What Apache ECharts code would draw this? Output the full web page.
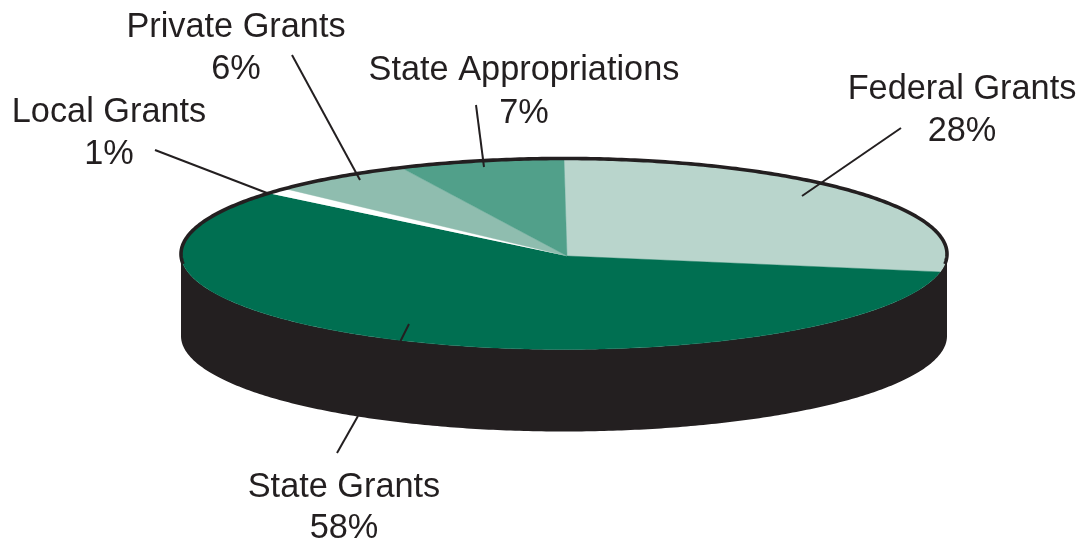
<!DOCTYPE html>
<html><head><meta charset="utf-8">
<style>html,body{margin:0;padding:0;background:#fff}#c{width:1083px;height:544px}</style>
<script src="https://cdn.jsdelivr.net/npm/echarts@6/dist/echarts.min.js"></script>
</head><body><div id="c"></div>
<script>
const categories = ['Federal Grants','State Grants','Local Grants','Private Grants','State Appropriations'];
const shares = [28,58,1,6,7];
const sliceColors = ['#B9D5CC','#006F51','#FFFFFF','#8FBDAF','#51A08A'];
const labelCenters = [[962,90,132],[344,488,529],[109,113,155],[236,28,70],[524,71,114]];
const leaders = [
  [[802,196],[901,128]],
  [[409,324],[400,342]],
  [[358,416],[337,453]],
  [[267,193],[155,150]],
  [[360,180],[292,55]],
  [[484,167],[476,105]]
];
const C = {cx:564,cy:254,rx:383,ry:95.5,ax:567,ay:256,depth:82};
const ink = '#231F20';
const TOTAL = shares.reduce((a,b)=>a+b,0);
function pt(deg,dy){const t=deg*Math.PI/180;return [C.cx+C.rx*Math.sin(t),C.cy-C.ry*Math.cos(t)+(dy||0)];}
function arc(a,b,dy){const n=Math.max(2,Math.ceil(Math.abs(b-a)*1.5)),o=[];for(let i=0;i<=n;i++)o.push(pt(a+(b-a)*i/n,dy));return o;}
const starts=[];shares.reduce((s,v,i)=>{starts[i]=s;return s+v;},0);
const chart=echarts.init(document.getElementById('c'),null,{renderer:'canvas'});
chart.setOption({
  animation:false,
  grid:{left:0,right:0,top:0,bottom:0},
  xAxis:{type:'value',min:0,max:1083,show:false},
  yAxis:{type:'value',min:0,max:544,inverse:true,show:false},
  series:[
    {type:'custom',silent:true,clip:false,data:[0],z:1,
     renderItem(p,api){
       const pts=arc(90,270,0).concat(arc(270,90,C.depth)).map(q=>api.coord(q));
       return {type:'polygon',shape:{points:pts},style:{fill:ink}};
     }},
    {type:'custom',silent:true,clip:false,z:2,
     data:shares.map((v,i)=>[starts[i],v]),
     renderItem(p,api){
       const a=api.value(0)/TOTAL*360,b=a+api.value(1)/TOTAL*360,i=p.dataIndex;
       const pts=[[C.ax,C.ay]].concat(arc(a,b,0)).map(q=>api.coord(q));
       return {type:'polygon',shape:{points:pts},style:{fill:sliceColors[i],stroke:sliceColors[i]==='#FFFFFF'?null:sliceColors[i],lineWidth:0.4}};
     }},
    {type:'custom',silent:true,clip:false,data:[0],z:3,
     renderItem(p,api){
       return {type:'polyline',shape:{points:arc(-96,96,0).map(q=>api.coord(q))},style:{fill:null,stroke:ink,lineWidth:3.6}};
     }},
    {type:'custom',silent:true,clip:false,z:4,
     data:leaders.map((l,i)=>[i]),
     renderItem(p,api){
       const l=leaders[p.dataIndex],a=api.coord(l[0]),b=api.coord(l[1]);
       return {type:'line',shape:{x1:a[0],y1:a[1],x2:b[0],y2:b[1]},style:{stroke:ink,lineWidth:2}};
     }},
    {type:'custom',silent:true,clip:false,z:5,
     data:categories.map((c,i)=>[i]),
     renderItem(p,api){
       const i=p.dataIndex,l=labelCenters[i];
       const font='34.3px "Liberation Sans", Arial, sans-serif';
       const mk=(t,y)=>{const q=api.coord([l[0],y]);return {type:'text',x:q[0],y:q[1],style:{text:t,font,fill:ink,align:'center',verticalAlign:'middle'}};};
       return {type:'group',children:[mk(categories[i],l[1]),mk(shares[i]+'%',l[2])]};
     }}
  ]
});
</script></body></html>
